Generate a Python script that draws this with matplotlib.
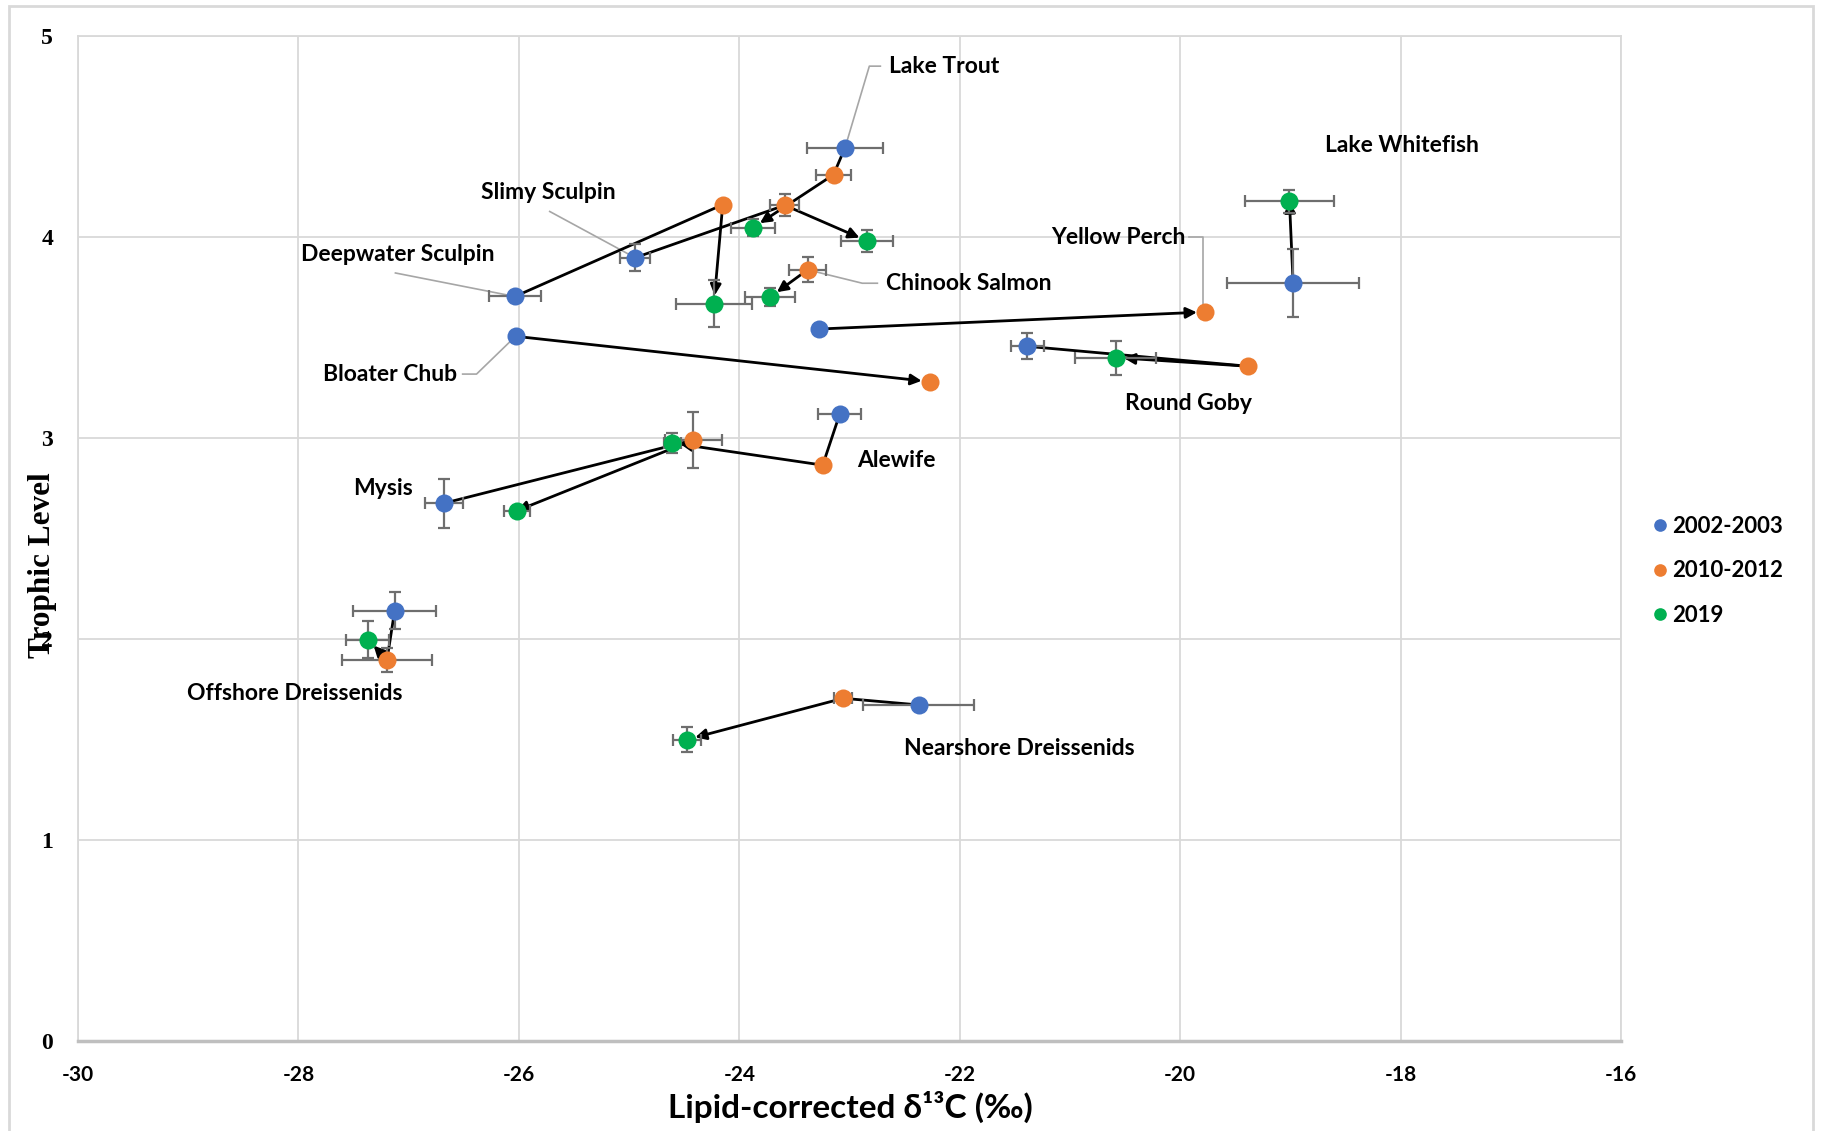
import numpy as np
import matplotlib
matplotlib.use('Agg')
import matplotlib.pyplot as plt
from matplotlib.patches import Rectangle

plt.rcParams['axes.unicode_minus'] = False

# ------------------------------------------------------------------
# data
# ------------------------------------------------------------------
species = ['Lake Trout', 'Slimy Sculpin', 'Deepwater Sculpin', 'Chinook Salmon',
           'Yellow Perch', 'Bloater Chub', 'Lake Whitefish', 'Round Goby',
           'Alewife', 'Mysis', 'Offshore Dreissenids', 'Nearshore Dreissenids']
periods = ['2002-2003', '2010-2012', '2019']
nan = np.nan

# 2002-2003
x_02 = [-23.04, -24.945, -26.036, nan, -23.28, -26.03, -18.975, -21.385, -23.09, -26.683, -27.127, -22.373]
y_02 = [4.445, 3.897, 3.704, nan, 3.542, 3.506, 3.77, 3.456, 3.117, 2.675, 2.141, 1.672]
xe_02 = [0.345, 0.136, 0.238, 0, 0, 0, 0.60, 0.154, 0.196, 0.172, 0.378, 0.504]
ye_02 = [0, 0.066, 0, 0, 0, 0, 0.17, 0.064, 0, 0.122, 0.091, 0]

# 2010-2012
x_10 = [-23.145, -23.587, -24.15, -23.38, -19.772, -22.27, nan, -19.385, -23.243, -24.416, -27.196, -23.057]
y_10 = [4.31, 4.158, 4.161, 3.837, 3.627, 3.28, nan, 3.357, 2.865, 2.99, 1.897, 1.705]
xe_10 = [0.157, 0.13, 0, 0.168, 0, 0, 0, 0, 0, 0.255, 0.409, 0.08]
ye_10 = [0.02, 0.054, 0, 0.063, 0, 0, 0, 0, 0, 0.139, 0.06, 0]

# 2019
x_19 = [-23.876, -22.84, -24.23, -23.72, nan, nan, -19.008, -20.585, -24.607, -26.018, -27.37, -24.473]
y_19 = [4.046, 3.98, 3.668, 3.701, nan, nan, 4.177, 3.4, 2.975, 2.638, 1.997, 1.5]
xe_19 = [0.2, 0.234, 0.345, 0.225, 0, 0, 0.40, 0.366, 0.08, 0.117, 0.194, 0.13]
ye_19 = [0.043, 0.055, 0.116, 0.045, 0, 0, 0.058, 0.085, 0.052, 0.02, 0.093, 0.062]

colors = ['#4472C4', '#ED7D31', '#00B050']

# label placement: (x, y, ha) and optional leader line points
label_pos = {
    'Lake Trout': (-22.64, 4.85, 'left'),
    'Lake Whitefish': (-18.69, 4.457, 'left'),
    'Slimy Sculpin': (-25.73, 4.22, 'center'),
    'Yellow Perch': (-19.95, 4.0, 'right'),
    'Deepwater Sculpin': (-27.1, 3.913, 'center'),
    'Chinook Salmon': (-22.67, 3.77, 'left'),
    'Bloater Chub': (-26.56, 3.318, 'right'),
    'Round Goby': (-19.92, 3.17, 'center'),
    'Alewife': (-22.93, 2.89, 'left'),
    'Mysis': (-27.23, 2.75, 'center'),
    'Offshore Dreissenids': (-28.03, 1.728, 'center'),
    'Nearshore Dreissenids': (-21.46, 1.457, 'center'),
}
leaders = {
    'Lake Trout': ([-22.72, -22.82, -23.04], [4.85, 4.85, 4.445]),
    'Slimy Sculpin': ([-25.72, -24.945], [4.127, 3.897]),
    'Yellow Perch': ([-19.92, -19.79, -19.79], [4.0, 4.0, 3.627]),
    'Deepwater Sculpin': ([-27.12, -26.036], [3.821, 3.704]),
    'Chinook Salmon': ([-22.747, -22.884, -23.38], [3.77, 3.77, 3.837]),
    'Bloater Chub': ([-26.51, -26.384, -26.03], [3.318, 3.318, 3.506]),
}
# arrows whose head sits under the end marker in the original
hidden_heads = ['Lake Whitefish', 'Mysis']

# ------------------------------------------------------------------
# figure
# ------------------------------------------------------------------
W, H = 1822, 1131
fig = plt.figure(figsize=(W / 100, H / 100), dpi=100)
fig.patches.append(Rectangle((9 / W, -0.01), (1813 - 9) / W, 1 - 6 / H + 0.01,
                             transform=fig.transFigure, fill=False,
                             edgecolor='#D9D9D9', lw=2))

ax = fig.add_axes([78 / W, 1 - 1041 / H, (1621 - 78) / W, (1041 - 36) / H])
ax.set_xlim(-30, -16)
ax.set_ylim(0, 5)
ax.set_xticks(np.arange(-30, -15, 2))
ax.set_yticks(np.arange(0, 6, 1))
ax.grid(True, color='#D9D9D9', lw=1.3, zorder=0)
ax.set_axisbelow(True)
for s in ['top', 'right', 'left']:
    ax.spines[s].set_color('#D9D9D9')
    ax.spines[s].set_linewidth(1.3)
ax.spines['bottom'].set_color('#BFBFBF')
ax.spines['bottom'].set_linewidth(2.5)
ax.tick_params(length=0)
ax.tick_params(axis='x', pad=17)
ax.tick_params(axis='y', pad=18)
for t in ax.get_xticklabels():
    t.set_fontfamily(['Lato', 'DejaVu Sans'])
    t.set_fontweight('bold')
    t.set_fontsize(15)
for t in ax.get_yticklabels():
    t.set_fontfamily(['Liberation Serif'])
    t.set_fontweight('bold')
    t.set_fontsize(17)

xs = [x_02, x_10, x_19]
ys = [y_02, y_10, y_19]
xes = [xe_02, xe_10, xe_19]
yes = [ye_02, ye_10, ye_19]

# connecting lines / arrows
for i, sp in enumerate(species):
    pts = [(xs[k][i], ys[k][i]) for k in range(3) if not np.isnan(xs[k][i])]
    for j in range(len(pts) - 1):
        if j < len(pts) - 2:
            ax.plot([pts[j][0], pts[j + 1][0]], [pts[j][1], pts[j + 1][1]],
                    color='black', lw=2, zorder=3)
        else:
            shrink = 0 if sp in hidden_heads else 6
            ax.annotate('', xy=pts[j + 1], xytext=pts[j],
                        arrowprops=dict(arrowstyle='-|>', color='black', lw=2,
                                        mutation_scale=16, shrinkA=0, shrinkB=shrink),
                        zorder=3)

# leader lines
for sp, (lx, ly) in leaders.items():
    ax.plot(lx, ly, color='#A6A6A6', lw=1.2, zorder=2)

# error bars + markers
for k in range(3):
    x = np.array(xs[k])
    y = np.array(ys[k])
    xe = np.array(xes[k])
    ye = np.array(yes[k])
    m = ~np.isnan(x)
    ax.errorbar(x[m], y[m], xerr=xe[m], yerr=ye[m], fmt='none', ecolor='#6E6E6E',
                elinewidth=1.6, capsize=4.5, capthick=1.6, zorder=4)
    ax.plot(x[m], y[m], 'o', color=colors[k], markersize=13, markeredgewidth=0,
            zorder=5, label=periods[k])

# species labels
for sp, (tx, ty, ha) in label_pos.items():
    ax.text(tx, ty, sp, ha=ha, va='center', fontsize=16.5, fontweight='bold',
            family=['Lato', 'DejaVu Sans'], zorder=6)

# axis titles
fig.text(850 / W, 1 - 1107 / H, 'Lipid-corrected \u03b4\u00b9\u00b3C (\u2030)', ha='center', va='center',
         fontsize=24, fontweight='bold', family=['Lato', 'DejaVu Sans'])
fig.text(43 / W, 1 - 565 / H, 'Trophic Level', ha='center', va='center', rotation=90,
         fontsize=22.5, fontweight='bold', family=['Liberation Serif'])

# legend
leg = fig.legend(loc='upper left', bbox_to_anchor=(1633 / W, 1 - 496 / H), frameon=False,
                 handlelength=0.6, handletextpad=0.25, labelspacing=1.05, markerscale=0.7,
                 prop=dict(family=['Lato', 'DejaVu Sans'], weight='bold', size=16))

fig.savefig('out.png', dpi=100)
